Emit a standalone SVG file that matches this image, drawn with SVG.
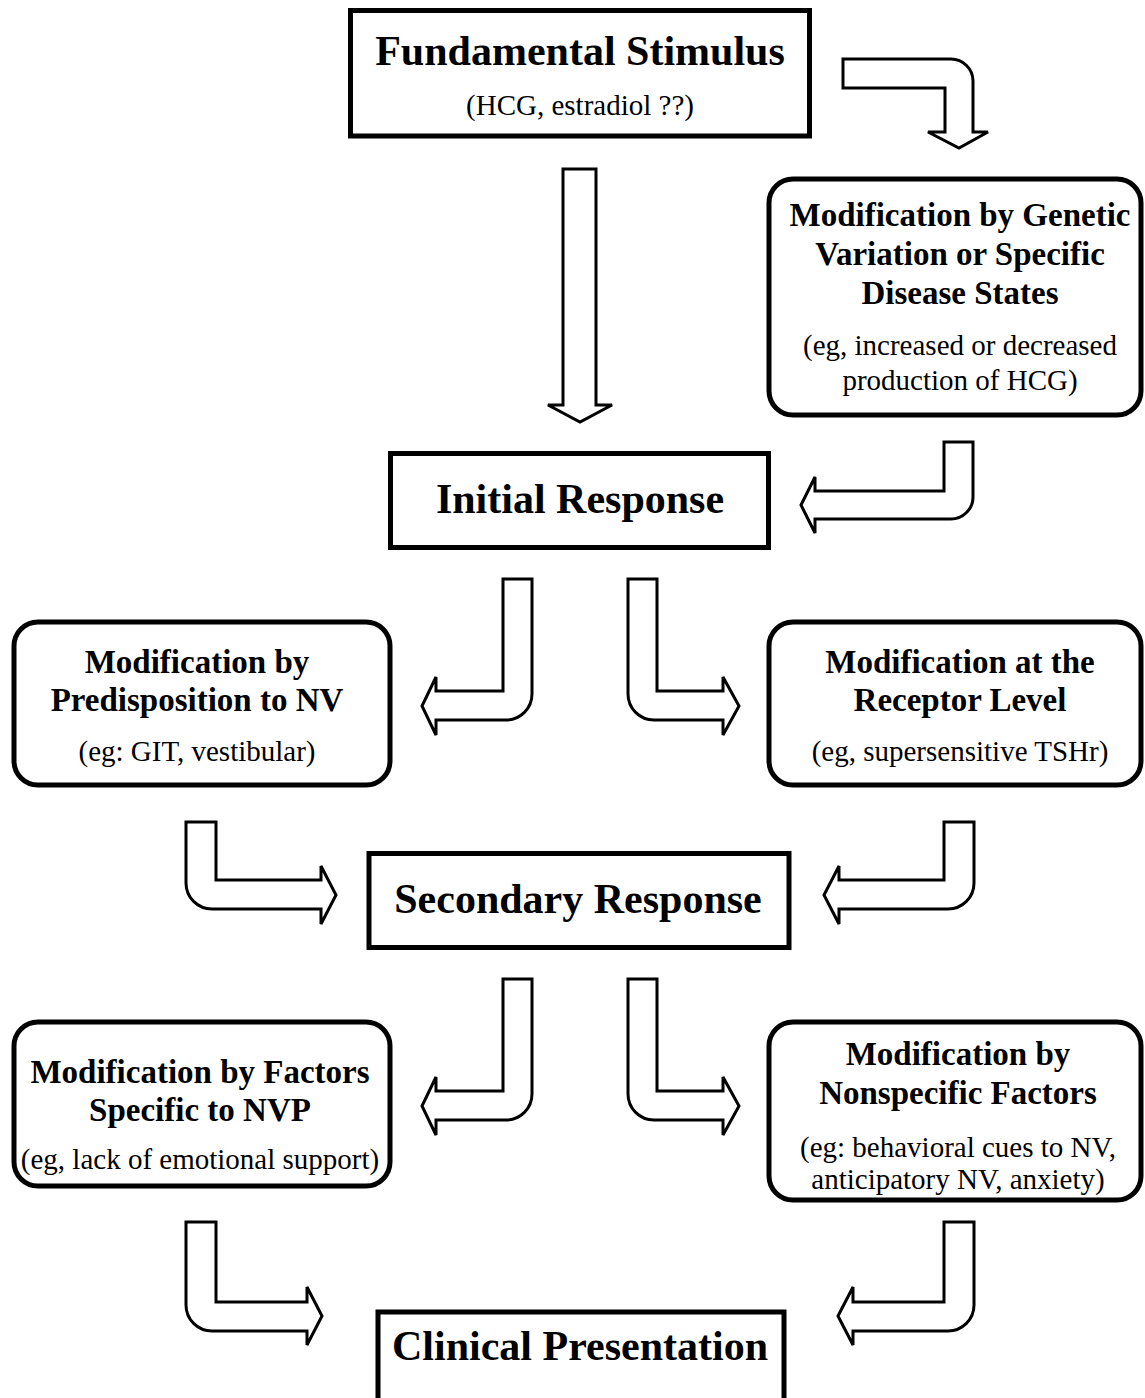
<svg xmlns="http://www.w3.org/2000/svg" width="1145" height="1398" viewBox="0 0 1145 1398">
<style>
.box{fill:#fff;stroke:#000;stroke-width:5}
.arr{fill:#fff;stroke:#000;stroke-width:3;stroke-linejoin:miter}
text{font-family:"Liberation Serif","Times New Roman",serif;fill:#000;text-anchor:middle}
.big{font-size:42px;font-weight:bold}
.t{font-size:33px;font-weight:bold}
.s{font-size:29px}
</style>
<rect width="1145" height="1398" fill="#fff"/>
<g id="connectors">
<path class="arr" d="M563,169 H596 V405 H612 L580,422 L548,405 H563 Z"/>
<path class="arr" d="M843,59 H951 A22,22 0 0 1 973,81 V132 H988 L959,148 L928,132 H945 V88 H843 Z"/>
<path class="arr" d="M944,442 H973 V497 A22,22 0 0 1 951,519 H815 V533 L801,505 L815,477 V491 H944 Z"/>
<path class="arr" d="M503,579 H532 V694 A26,26 0 0 1 506,720 H436 V735 L422,706 L436,677 V691 H503 Z"/>
<path class="arr" d="M628,579 H657 V691 H723 V677 L739,706 L723,735 V720 H654 A26,26 0 0 1 628,694 Z"/>
<path class="arr" d="M186,822 H216 V880 H321 V866 L336,895 L321,924 V909 H212 A26,26 0 0 1 186,883 Z"/>
<path class="arr" d="M974,822 H944 V880 H839 V866 L824,895 L839,924 V909 H948 A26,26 0 0 0 974,883 Z"/>
<path class="arr" d="M503,979 H532 V1094 A26,26 0 0 1 506,1120 H436 V1135 L422,1106 L436,1077 V1091 H503 Z"/>
<path class="arr" d="M628,979 H657 V1091 H723 V1077 L739,1106 L723,1135 V1120 H654 A26,26 0 0 1 628,1094 Z"/>
<path class="arr" d="M186,1222 H216 V1302 H307 V1287 L322,1316 L307,1345 V1331 H212 A26,26 0 0 1 186,1305 Z"/>
<path class="arr" d="M974,1222 H944 V1302 H853 V1287 L838,1316 L853,1345 V1331 H948 A26,26 0 0 0 974,1305 Z"/>
</g>
<g id="fundamental">
<rect class="box" x="350.5" y="10.5" width="459" height="125.5"/>
<text class="big" x="580" y="65">Fundamental Stimulus</text>
<text class="s" x="580" y="115">(HCG, estradiol ??)</text>
</g>
<g id="genetic">
<rect class="box" x="769" y="179" width="372" height="236" rx="24"/>
<text class="t" x="960" y="226">Modification by Genetic</text>
<text class="t" x="960" y="265">Variation or Specific</text>
<text class="t" x="960" y="304">Disease States</text>
<text class="s" x="960" y="355">(eg, increased or decreased</text>
<text class="s" x="960" y="390">production of HCG)</text>
</g>
<g id="initial">
<rect class="box" x="390.5" y="453.5" width="378" height="94"/>
<text class="big" x="580" y="513">Initial Response</text>
</g>
<g id="predisposition">
<rect class="box" x="14" y="622" width="376" height="163" rx="24"/>
<text class="t" x="197" y="673">Modification by</text>
<text class="t" x="197" y="711">Predisposition to NV</text>
<text class="s" x="197" y="761">(eg: GIT, vestibular)</text>
</g>
<g id="receptor">
<rect class="box" x="769" y="622" width="372" height="163" rx="24"/>
<text class="t" x="960" y="673">Modification at the</text>
<text class="t" x="960" y="711">Receptor Level</text>
<text class="s" x="960" y="761">(eg, supersensitive TSHr)</text>
</g>
<g id="secondary">
<rect class="box" x="369" y="853.5" width="420" height="94"/>
<text class="big" x="578" y="913">Secondary Response</text>
</g>
<g id="factorsNVP">
<rect class="box" x="14" y="1022" width="376" height="164" rx="24"/>
<text class="t" x="200" y="1083">Modification by Factors</text>
<text class="t" x="200" y="1121">Specific to NVP</text>
<text class="s" x="200" y="1169">(eg, lack of emotional support)</text>
</g>
<g id="nonspecific">
<rect class="box" x="769" y="1022" width="372" height="178" rx="24"/>
<text class="t" x="958" y="1065">Modification by</text>
<text class="t" x="958" y="1104">Nonspecific Factors</text>
<text class="s" x="958" y="1157">(eg: behavioral cues to NV,</text>
<text class="s" x="958" y="1189">anticipatory NV, anxiety)</text>
</g>
<g id="clinical">
<rect class="box" x="378" y="1312" width="406" height="110"/>
<text class="big" x="580" y="1360">Clinical Presentation</text>
</g>
</svg>
